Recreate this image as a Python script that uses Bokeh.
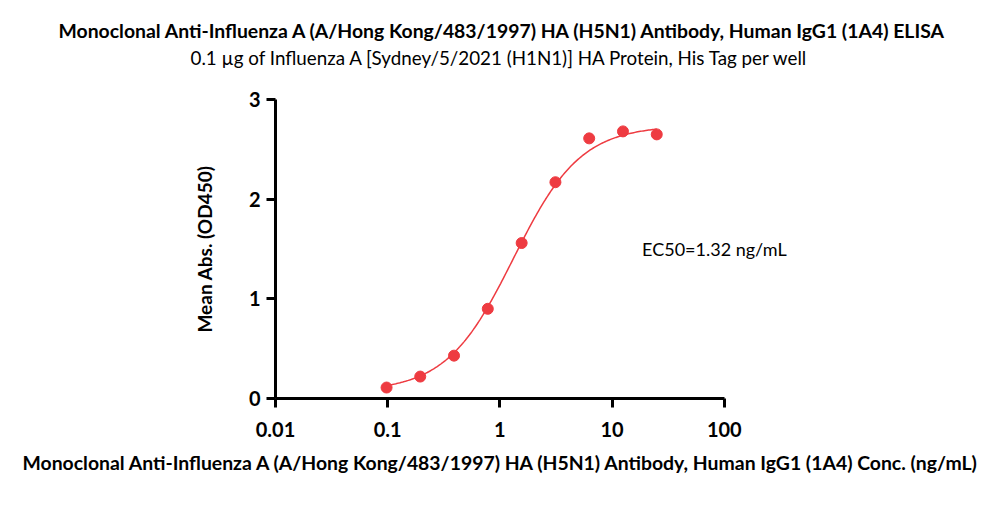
import numpy as np
from bokeh.plotting import figure
from bokeh.models import Label, FixedTicker, Range1d, Title
from bokeh.embed import file_html
from bokeh.resources import INLINE

# Data
conc = [0.0977, 0.195, 0.39, 0.78, 1.5625, 3.125, 6.25, 12.5, 25.0]
od450 = [0.11, 0.22, 0.43, 0.90, 1.56, 2.17, 2.61, 2.68, 2.65]
# 4PL fit parameters
fit_bottom = 0.07
fit_top = 2.74
fit_ec50 = 1.32
fit_hill = 1.45
x_ticks = [0.01, 0.1, 1, 10, 100]
x_tick_labels = {0.01: "0.01", 0.1: "0.1", 1: "1", 10: "10", 100: "100"}
y_ticks = [0, 1, 2, 3]

title = "Monoclonal Anti-Influenza A (A/Hong Kong/483/1997) HA (H5N1) Antibody, Human IgG1 (1A4) ELISA"
subtitle = "0.1 \u00b5g of Influenza A [Sydney/5/2021 (H1N1)] HA Protein, His Tag per well"
x_label = "Monoclonal Anti-Influenza A (A/Hong Kong/483/1997) HA (H5N1) Antibody, Human IgG1 (1A4) Conc. (ng/mL)"
y_label = "Mean Abs. (OD450)"
ec50_text = "EC50=1.32 ng/mL"

FONT = "Lato"
RED = "#EE3B41"

# frame spans 0.01..1000 (axis drawn only to 100) so the EC50 note fits unclipped
p = figure(width=984, height=505, x_axis_type="log", output_backend="svg",
           toolbar_location=None, x_range=Range1d(0.01, 1000), y_range=Range1d(0, 3),
           min_border_left=275, min_border_right=148, min_border_top=99, min_border_bottom=107)
p.outline_line_color = None
p.grid.visible = False
p.background_fill_color = "white"

# fitted curve
xc = np.logspace(np.log10(conc[0]), np.log10(conc[-1]), 200)
yc = fit_bottom + (fit_top - fit_bottom) / (1 + (fit_ec50 / xc) ** fit_hill)
p.line(xc, yc, line_color=RED, line_width=1.5)
p.scatter(conc, od450, size=11, fill_color=RED, line_color=RED)

for ax in (p.xaxis[0], p.yaxis[0]):
    ax.axis_line_width = 3
    ax.axis_line_color = "black"
    ax.major_tick_line_width = 3
    ax.major_tick_out = 9
    ax.major_tick_in = 0
    ax.minor_tick_line_color = None
    ax.major_label_text_font = FONT
    ax.major_label_text_font_style = "bold"
    ax.major_label_text_font_size = "20px"
    ax.major_label_text_color = "black"
    ax.axis_label_text_font = FONT
    ax.axis_label_text_font_style = "bold"
    ax.axis_label_text_font_size = "19px"
    ax.axis_label_text_color = "black"

p.xaxis.ticker = FixedTicker(ticks=x_ticks)
p.xaxis.major_label_overrides = x_tick_labels
p.xaxis.major_label_standoff = 14
p.xaxis.bounds = (0.01, 100)
p.yaxis.ticker = FixedTicker(ticks=y_ticks)
p.yaxis.major_label_standoff = 6
p.yaxis.axis_label = y_label
p.yaxis.axis_label_standoff = 30

p.add_layout(Title(text=x_label, align="left", offset=-253, standoff=19,
                   text_font=FONT, text_font_style="bold", text_font_size="19.4px",
                   text_color="black"), "below")
# spacer between frame and subtitle
p.add_layout(Title(text=" ", align="left", standoff=27, text_font_size="2px"), "above")
p.add_layout(Title(text=subtitle, align="left", offset=-85, standoff=0,
                   text_font=FONT, text_font_style="normal", text_font_size="18.8px",
                   text_color="black"), "above")
p.add_layout(Title(text=title, align="left", offset=-217, standoff=3,
                   text_font=FONT, text_font_style="bold", text_font_size="19.4px",
                   text_color="black"), "above")
p.add_layout(Label(x=18.5, y=1.5, text=ec50_text, text_align="left", text_baseline="middle",
                   text_font=FONT, text_font_size="18px", text_color="black"))

open("out.html", "w").write(file_html(p, INLINE))
